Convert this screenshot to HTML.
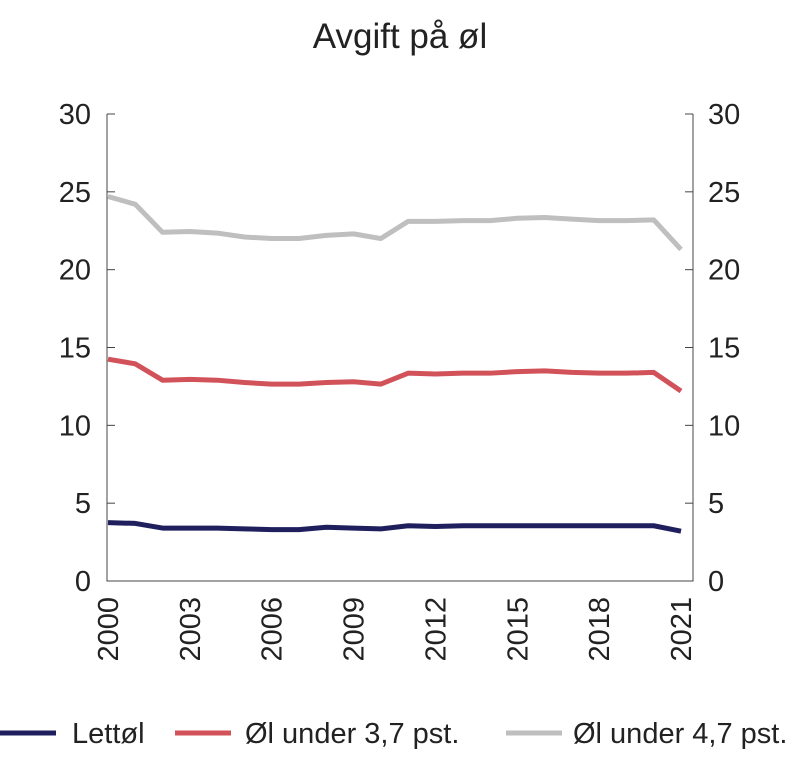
<!DOCTYPE html>
<html><head><meta charset="utf-8"><style>
body{margin:0;background:#fff}
svg{display:block;font-family:"Liberation Sans","DejaVu Sans",sans-serif}
</style></head><body>
<svg id="c" width="800" height="766">
<text x="400" y="48" font-size="35" text-anchor="middle" fill="#222">Avgift på øl</text>
</svg>
<script>
const years=[2000,2001,2002,2003,2004,2005,2006,2007,2008,2009,2010,2011,2012,2013,2014,2015,2016,2017,2018,2019,2020,2021];
const lettol=[3.75,3.7,3.4,3.4,3.4,3.35,3.3,3.3,3.45,3.4,3.35,3.55,3.5,3.55,3.55,3.55,3.55,3.55,3.55,3.55,3.55,3.2];
const ol37=[14.25,13.95,12.9,12.95,12.9,12.75,12.65,12.65,12.75,12.8,12.65,13.35,13.3,13.35,13.35,13.45,13.5,13.4,13.35,13.35,13.4,12.2];
const ol47=[24.7,24.2,22.4,22.45,22.35,22.1,22.0,22.0,22.2,22.3,22.0,23.1,23.1,23.15,23.15,23.3,23.35,23.25,23.15,23.15,23.2,21.3];
const yTicks=[0,5,10,15,20,25,30];
const xTickYears=[2000,2003,2006,2009,2012,2015,2018,2021];
const NS="http://www.w3.org/2000/svg";
const svg=document.getElementById('c');
const L=107,R=693,T=114,B=581;
const x=v=>108+(v-2000)*(681-108)/21;
const y=v=>B-(v/30)*(B-T);
function mk(t,a,p){const e=document.createElementNS(NS,t);for(const k in a)e.setAttribute(k,a[k]);(p||svg).appendChild(e);return e;}
const ax=mk('path',{d:`M${L},${T}V${B}H${R}V${T}`,fill:'none',stroke:'#444','stroke-width':1});


yTicks.forEach(v=>{
  const t1=mk('line',{x1:L,x2:L+8,y1:y(v),y2:y(v),stroke:'#444'});
  
  
  const t2=mk('line',{x1:R-8,x2:R,y1:y(v),y2:y(v),stroke:'#444'});
  
  
  const a=mk('text',{x:L-16,y:y(v)+10,'font-size':29,'text-anchor':'end',fill:'#222'});a.textContent=v;
  
  
  const b=mk('text',{x:R+15,y:y(v)+10,'font-size':29,fill:'#222'});b.textContent=v;
  
  
});
xTickYears.forEach(v=>{
  const t=mk('text',{transform:`translate(${x(v)+10},${B+16}) rotate(-90)`,'font-size':29,'text-anchor':'end',fill:'#222'});t.textContent=v;
  
  
});
const series=[[ol47,'#bfbfbf','series-ol-4-7'],[ol37,'#d2525a','series-ol-3-7'],[lettol,'#1f1f5e','series-lettol']];
series.forEach(([d,c,n])=>{
  const p=mk('polyline',{points:d.map((v,i)=>x(years[i])+','+y(v)).join(' '),fill:'none',stroke:c,'stroke-width':5,'stroke-linejoin':'round'});
  
  
});
const leg=[['Lettøl','#1f1f5e',0,72],['Øl under 3,7 pst.','#d2525a',175,245],['Øl under 4,7 pst.','#bfbfbf',506,573]];
leg.forEach(([t,c,ox,tx0])=>{
  const g=mk('g',{});
  
  
  mk('line',{x1:ox,x2:ox+56,y1:733,y2:733,stroke:c,'stroke-width':5},g);
  const tx=mk('text',{x:tx0,y:743,'font-size':29,fill:'#222'},g);tx.textContent=t;
});
</script>
</body></html>
